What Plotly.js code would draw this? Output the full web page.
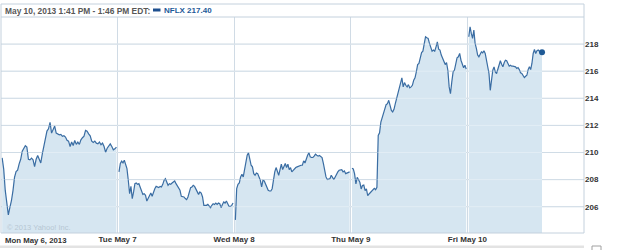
<!DOCTYPE html>
<html>
<head>
<meta charset="utf-8">
<script src="https://cdn.plot.ly/plotly-3.0.1.min.js"></script>
<style>html,body{margin:0;padding:0;background:#fff;}#chart{width:625px;height:250px;}</style>
</head>
<body>
<div id="chart"></div>
<script>
// ---- data ----
const dayLabels = ['Mon May 6, 2013', 'Tue May 7', 'Wed May 8', 'Thu May 9', 'Fri May 10'];
const headerDate = 'May 10, 2013 1:41 PM - 1:46 PM EDT:';
const symbol = 'NFLX';
const lastPrice = '217.40';
const watermark = '\u00a9 2013 Yahoo! Inc.';
const yTicks = [206, 208, 210, 212, 214, 216, 218];

const mon = [209.6, 208.77, 207.2, 206.07, 205.4, 205.95, 206.44, 207.19, 208.17, 208.6, 208.7, 209.16, 209.5, 210.1, 210.35, 210.5, 210.4, 209.5, 209.46, 209.58, 209.46, 208.96, 209.5, 209.78, 209.5, 209.23, 209.9, 210.52, 210.84, 211.58, 211.75, 212.22, 211.43, 211.75, 211.95, 211.43, 211.38, 211.31, 211.33, 211.19, 211.24, 211.14, 210.9, 210.84, 210.44, 210.77, 210.52, 210.89, 210.6, 210.77, 210.6, 210.94, 211.09, 211.21, 211.63, 211.58, 211.38, 211.23, 210.84, 210.74, 210.84, 210.69, 210.64, 210.77, 210.57, 210.69, 210.44, 210.02, 210.32, 210.44, 210.64, 210.44, 210.2, 210.27, 210.4];
const tue = [208.57, 209.19, 209.36, 209.23, 209.43, 209.19, 208.81, 207.95, 206.96, 207.5, 206.6, 207.09, 207.7, 207.75, 207.65, 207.7, 207.41, 207.16, 206.91, 206.96, 206.84, 206.42, 206.6, 206.84, 207.01, 206.77, 207.09, 207.33, 207.5, 207.46, 207.41, 207.5, 207.46, 207.65, 207.95, 208.07, 207.75, 207.58, 207.7, 207.65, 207.75, 207.83, 207.9, 207.7, 207.5, 207.41, 207.21, 206.77, 206.72, 206.72, 206.6, 206.52, 206.72, 207.09, 207.41, 207.46, 207.58, 207.5, 207.33, 207.16, 206.91, 207.09, 207.01, 206.72, 206.1, 206.1, 206.1, 206.17, 206.02, 205.93, 206.1, 206.22, 206.17, 206.27, 206.17, 206.27, 206.22, 205.93, 206.17, 206.35, 206.27, 206.42, 206.22, 206.02, 206.02, 206.1, 206.27];
const wed = [205.03, 207.33, 207.65, 207.75, 208.2, 208.4, 208.2, 208.81, 209.43, 209.8, 209.98, 209.56, 209.06, 208.94, 208.44, 208.32, 208.49, 208.44, 208.2, 207.95, 207.46, 207.95, 207.9, 207.7, 207.41, 207.21, 207.16, 207.16, 207.33, 208.2, 208.57, 208.89, 208.64, 208.32, 208.74, 209.14, 208.74, 208.94, 209.19, 208.89, 209.14, 208.74, 208.89, 208.57, 208.69, 208.81, 208.89, 208.94, 208.99, 209.04, 209.06, 209.06, 209.38, 209.23, 209.56, 209.8, 209.98, 209.68, 209.63, 209.63, 209.73, 209.88, 209.8, 209.73, 209.78, 209.73, 209.63, 209.19, 208.57, 208.2, 208.0, 208.02, 208.07, 208.32, 208.2, 208.0, 208.2, 208.44, 208.57, 208.69, 208.74, 208.74, 208.57, 208.64, 208.44, 208.49, 208.57, 208.57];
const thu = [208.84, 208.79, 208.42, 207.68, 208.17, 208.0, 207.8, 207.31, 207.56, 207.6, 207.19, 207.31, 206.81, 206.94, 207.06, 207.19, 207.31, 207.36, 207.26, 207.43, 211.26, 211.46, 212.25, 212.62, 212.79, 213.36, 213.53, 213.6, 213.85, 213.48, 213.11, 212.99, 213.19, 213.6, 213.98, 214.47, 214.84, 215.26, 215.51, 214.84, 215.16, 214.96, 214.84, 215.01, 214.77, 214.84, 214.96, 215.33, 215.51, 215.95, 216.49, 216.57, 216.99, 217.38, 217.48, 218.05, 218.54, 218.47, 218.42, 218.05, 217.73, 217.48, 217.56, 217.48, 217.8, 218.17, 217.63, 217.56, 217.19, 216.94, 216.74, 216.49, 216.64, 216.07, 214.84, 214.35, 215.21, 215.95, 216.07, 216.49, 216.99, 217.06, 217.31, 216.81, 216.49, 216.25, 216.44, 216.15];
const fri = [218.54, 219.28, 218.79, 218.42, 219.04, 218.05, 217.68, 217.19, 217.06, 217.31, 217.43, 217.36, 217.51, 217.31, 216.81, 216.44, 215.83, 214.59, 215.46, 216.07, 216.32, 215.95, 215.83, 216.12, 216.44, 216.77, 216.52, 216.32, 216.62, 216.81, 216.77, 216.57, 216.37, 216.44, 216.37, 216.37, 216.32, 216.32, 216.2, 216.27, 216.12, 215.88, 215.83, 215.7, 215.53, 215.63, 215.7, 216.12, 216.32, 216.12, 216.57, 217.31, 217.6, 217.31, 217.51, 217.56, 217.43, 217.36, 217.40];

// ---- layout / styling ----
const series = [mon, tue, wed, thu, fri];
const sessionSpan = [[0.01, 0.99], [0.012, 0.99], [0.01, 0.99], [0.01, 0.99], [0.012, 0.64]];
const LINE = '#3a6da3', FILL = '#d6e6f1', FRAME = '#c4d1dd';
const W = 625, H = 250, ML = 1, MR = 41, MT = 17, MB = 17;
const PW = W - ML - MR, PH = H - MT - MB;
const px2x = p => (p - ML) / PW;          // pixel -> paper x
const py2y = p => (H - MB - p) / PH;      // pixel -> paper y
const FONT = 'Liberation Sans, Arial, sans-serif';
const b = s => '<b>' + s + '</b>';

const traces = [];
series.forEach((arr, d) => {
  const [s, e] = sessionSpan[d];
  const n = arr.length;
  const xs = arr.map((_, i) => d + s + i * (e - s) / (n - 1));
  traces.push({
    x: xs, y: arr, type: 'scatter', mode: 'lines',
    line: {color: LINE, width: 1.2},
    fill: 'tozeroy', fillcolor: FILL, hoverinfo: 'skip'
  });
});
// last-price marker
{
  const [s, e] = sessionSpan[4];
  traces.push({
    x: [4 + e], y: [fri[fri.length - 1]], type: 'scatter', mode: 'markers',
    marker: {color: '#1f5a96', size: 6}, hoverinfo: 'skip'
  });
}

const shapes = [];
// horizontal gridlines: base under traces + light overlay above (lighter inside fill)
yTicks.forEach(v => {
  shapes.push({type: 'line', xref: 'paper', x0: 0, x1: 1, yref: 'y', y0: v, y1: v,
    line: {color: '#bccddb', width: 1}, layer: 'below'});
  shapes.push({type: 'line', xref: 'paper', x0: 0, x1: 1, yref: 'y', y0: v, y1: v,
    line: {color: 'rgba(255,255,255,0.3)', width: 1}, layer: 'above'});
});
// frame incl. header strip
shapes.push({type: 'rect', xref: 'paper', yref: 'paper', x0: 0, x1: 1, y0: 0, y1: py2y(4),
  line: {color: FRAME, width: 1}, fillcolor: 'rgba(0,0,0,0)', layer: 'above'});
shapes.push({type: 'line', xref: 'paper', yref: 'paper', x0: 0, x1: 1, y0: 1, y1: 1,
  line: {color: FRAME, width: 1}, layer: 'above'});
// legend dash in header
shapes.push({type: 'line', xref: 'paper', yref: 'paper', x0: px2x(153), x1: px2x(160.5), y0: py2y(10), y1: py2y(10),
  line: {color: '#1d4f8f', width: 3}, layer: 'above'});
// bottom band
shapes.push({type: 'rect', xref: 'paper', yref: 'paper', x0: px2x(0), x1: 1, y0: py2y(245.5), y1: py2y(248),
  line: {width: 0}, fillcolor: '#e3e3e3', layer: 'above'});
// small icon bottom right
shapes.push({type: 'rect', xref: 'paper', yref: 'paper', x0: px2x(592), x1: px2x(601), y0: py2y(246), y1: py2y(253),
  line: {color: '#a0a0a0', width: 1}, fillcolor: '#ffffff', layer: 'above'});

const annotations = [
  {text: b(headerDate), xref: 'paper', yref: 'paper', x: px2x(2.7), y: py2y(10.5), xanchor: 'left', yanchor: 'middle',
   showarrow: false, font: {family: FONT, size: 8.4, color: '#575757'}},
  {text: b(symbol + ' ' + lastPrice), xref: 'paper', yref: 'paper', x: px2x(162), y: py2y(10.5), xanchor: 'left', yanchor: 'middle',
   showarrow: false, font: {family: FONT, size: 8, color: '#1d5a99'}},
  {text: b(dayLabels[0]), xref: 'paper', yref: 'paper', x: px2x(2.5), y: py2y(240), xanchor: 'left', yanchor: 'middle',
   showarrow: false, font: {family: FONT, size: 7.8, color: '#333333'}},
  {text: watermark, xref: 'paper', yref: 'paper', x: px2x(5), y: py2y(227.3), xanchor: 'left', yanchor: 'middle',
   showarrow: false, font: {family: FONT, size: 7.5, color: '#b7c6d3'}}
];

const layout = {
  width: W, height: H,
  margin: {l: ML, r: MR, t: MT, b: MB, pad: 0},
  paper_bgcolor: '#ffffff', plot_bgcolor: '#ffffff',
  showlegend: false,
  xaxis: {
    range: [0, 5], tickmode: 'array', tickvals: [1, 2, 3, 4], ticktext: dayLabels.slice(1).map(b),
    showgrid: true, gridcolor: '#d0dbe5', gridwidth: 1, zeroline: false, showline: false, ticks: '',
    tickfont: {family: FONT, size: 8, color: '#333333'}, fixedrange: true
  },
  yaxis: {
    range: [204.06, 220], side: 'right', tickmode: 'array', tickvals: yTicks,
    ticktext: yTicks.map(v => b(String(v))),
    showgrid: false, zeroline: false, showline: false, ticks: '',
    tickfont: {family: FONT, size: 8, color: '#333333'}, fixedrange: true
  },
  shapes: shapes,
  annotations: annotations
};

Plotly.newPlot('chart', traces, layout, {displayModeBar: false, staticPlot: true});
</script>
</body>
</html>
